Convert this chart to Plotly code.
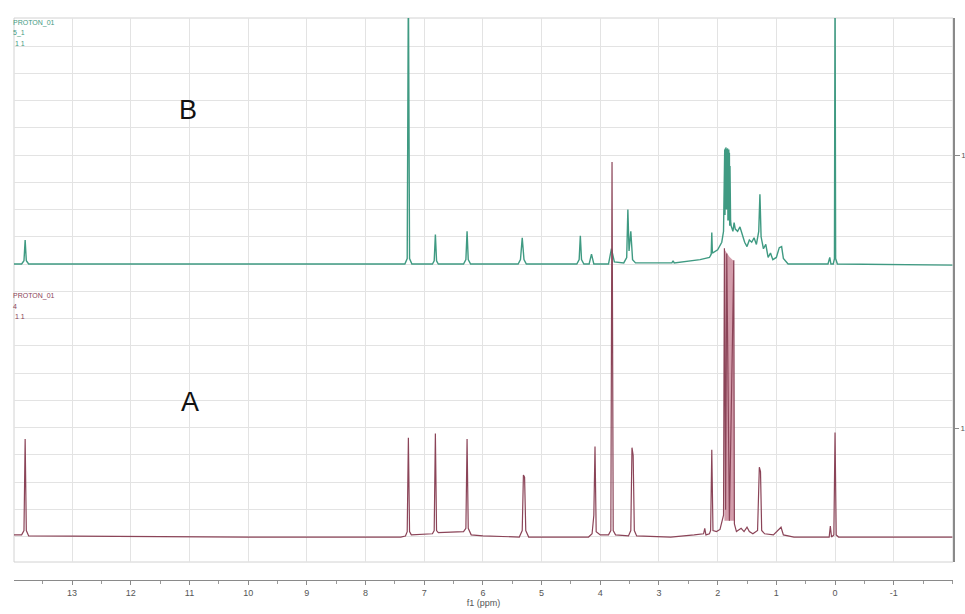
import plotly.graph_objects as go

# 1H NMR spectra, chemical shift (ppm) vs. normalised intensity
# Spectrum B (upper trace)
b_ppm = [14.0, 13.86, 13.82, 13.80, 13.78, 13.74, 10.0, 8.0,
         7.33, 7.29, 7.27, 7.25, 7.21,
         6.86, 6.83, 6.81, 6.79, 6.76,
         6.33, 6.29, 6.27, 6.25, 6.21,
         5.40, 5.36, 5.33, 5.30, 5.26,
         4.40, 4.36, 4.34, 4.32, 4.28,
         4.19, 4.15, 4.11,
         3.86, 3.81, 3.76,
         3.60, 3.55, 3.53, 3.51, 3.48, 3.45, 3.40,
         3.0, 2.78, 2.76, 2.74, 2.30,
         2.14, 2.11, 2.10, 2.09, 2.00, 1.93,
         1.90, 1.88, 1.875, 1.87, 1.865, 1.86, 1.855, 1.85, 1.845, 1.84, 1.835, 1.83,
         1.825, 1.82, 1.815, 1.81, 1.805, 1.80, 1.795, 1.79, 1.78, 1.77,
         1.74, 1.72, 1.70, 1.66, 1.62, 1.58, 1.54, 1.50, 1.46, 1.42, 1.38, 1.34,
         1.30, 1.28, 1.26, 1.22, 1.18, 1.14, 1.10, 1.06, 1.00, 0.95, 0.91, 0.88, 0.80,
         0.12, 0.09, 0.07, 0.03, 0.01, 0.0, -0.01, -0.04, -2.0]
b_int = [0.0, 0.0, 0.03, 0.22, 0.03, 0.0, 0.0, 0.0,
         0.0, 0.05, 2.6, 0.05, 0.0,
         0.0, 0.03, 0.27, 0.03, 0.0,
         0.0, 0.04, 0.30, 0.04, 0.0,
         0.0, 0.04, 0.24, 0.04, 0.0,
         0.0, 0.04, 0.26, 0.04, 0.0,
         0.0, 0.09, 0.0,
         0.0, 0.14, 0.02,
         0.01, 0.06, 0.50, 0.12, 0.30, 0.04, 0.01,
         0.01, 0.01, 0.03, 0.01, 0.04,
         0.06, 0.09, 0.29, 0.10, 0.13, 0.20,
         0.30, 1.05, 0.45, 1.06, 0.50, 1.07, 0.55, 1.06, 0.50, 1.05, 0.45, 1.06,
         0.40, 1.04, 0.45, 1.05, 0.40, 1.02, 0.35, 0.90, 0.40, 0.35,
         0.30, 0.38, 0.32, 0.30, 0.34, 0.27, 0.20, 0.16, 0.22, 0.20, 0.24, 0.18,
         0.30, 0.64, 0.25, 0.14, 0.18, 0.06, 0.10, 0.04, 0.06, 0.15, 0.16, 0.05, 0.0,
         0.0, 0.06, 0.0, 0.0, 0.05, 2.6, 0.05, 0.0, -0.01]

# Spectrum A (lower trace)
a_ppm = [14.0, 13.86, 13.82, 13.80, 13.78, 13.74, 10.0, 8.0, 7.40,
         7.32, 7.29, 7.27, 7.25, 7.22,
         6.86, 6.83, 6.81, 6.79, 6.76,
         6.33, 6.29, 6.27, 6.25, 6.20, 6.0,
         5.38, 5.33, 5.31, 5.29, 5.27, 5.22,
         4.20, 4.14, 4.11, 4.09, 4.07, 4.00,
         3.86, 3.82, 3.80, 3.78, 3.74,
         3.52, 3.48, 3.46, 3.44, 3.42, 3.38,
         2.80, 2.40, 2.24, 2.22, 2.20, 2.14,
         2.12, 2.10, 2.08, 2.02, 1.96,
         1.90, 1.885, 1.865, 1.845, 1.80, 1.725, 1.715, 1.68,
         1.60, 1.55, 1.50, 1.46, 1.40, 1.32, 1.29, 1.27, 1.25, 1.20, 1.05, 0.92, 0.88, 0.70,
         0.10, 0.08, 0.06, 0.02, 0.0, -0.02, -0.06, -2.0]
a_int = [0.02, 0.02, 0.06, 0.90, 0.06, 0.01, 0.0, 0.0, 0.0,
         0.01, 0.05, 0.91, 0.05, 0.02,
         0.03, 0.06, 0.95, 0.06, 0.04,
         0.05, 0.08, 0.90, 0.08, 0.02, 0.01,
         0.0, 0.06, 0.57, 0.55, 0.06, 0.0,
         0.0, 0.03, 0.20, 0.83, 0.05, 0.02,
         0.02, 0.06, 3.44, 0.06, 0.02,
         0.01, 0.06, 0.82, 0.75, 0.06, 0.01,
         0.0, 0.02, 0.03, 0.08, 0.02, 0.03,
         0.06, 0.80, 0.06, 0.05, 0.07,
         0.20, 2.65, 0.25, 2.60, 0.15, 2.54, 0.12, 0.05,
         0.08, 0.05, 0.09, 0.05, 0.03, 0.06, 0.64, 0.60, 0.06, 0.03, 0.02, 0.09, 0.02, 0.0,
         0.0, 0.10, 0.0, 0.02, 0.96, 0.02, 0.0, 0.0]

# envelope of the unresolved 1.7-1.9 ppm multiplet in A
a_env_ppm = [1.885, 1.885, 1.80, 1.722, 1.722]
a_env_int = [0.15, 2.64, 2.57, 2.53, 0.15]

x_tick_vals = [13, 12, 11, 10, 9, 8, 7, 6, 5, 4, 3, 2, 1, 0, -1]
x_tick_text = ["13", "12", "11", "10", "9", "8", "7", "6", "5", "4", "3", "2", "1", "0", "-1"]

GREEN = "#3f9a82"
MAROON = "#8b4458"
GRID = "#e3e3e3"
FONT = "Liberation Sans, Arial, sans-serif"

fig = go.Figure()
fig.add_trace(go.Scatter(x=b_ppm, y=b_int, mode="lines", yaxis="y",
                         line=dict(color=GREEN, width=1.4), hoverinfo="x+y"))
fig.add_trace(go.Scatter(x=a_env_ppm, y=a_env_int, mode="lines", yaxis="y2",
                         fill="toself", fillcolor="rgba(200,132,150,0.8)",
                         line=dict(width=0), hoverinfo="skip"))
fig.add_trace(go.Scatter(x=a_ppm, y=a_int, mode="lines", yaxis="y2",
                         line=dict(color=MAROON, width=1.2), hoverinfo="x+y"))

# frame around the spectra area
fig.add_shape(type="rect", xref="paper", yref="paper", x0=0, x1=1, y0=0.032, y1=1,
              line=dict(color="#d2d2d2", width=1), layer="below")

lbl_font = dict(family=FONT, size=7)
for i, t in enumerate(["PROTON_01", "5_1", " 1 1"]):
    fig.add_annotation(xref="paper", yref="paper", x=-0.003, y=1 - (5 + i * 10) / 562,
                       text=t, showarrow=False, xanchor="left", yanchor="middle",
                       font=dict(color=GREEN, **lbl_font))
for i, t in enumerate(["PROTON_01", "4", " 1 1"]):
    fig.add_annotation(xref="paper", yref="paper", x=-0.003, y=1 - (278 + i * 10) / 562,
                       text=t, showarrow=False, xanchor="left", yanchor="middle",
                       font=dict(color=MAROON, **lbl_font))

big = dict(family=FONT, size=27, color="#111111")
fig.add_annotation(xref="paper", yref="paper", x=(188 - 14) / 939, y=1 - (110 - 18) / 562,
                   text="B", showarrow=False, xanchor="center", yanchor="middle", font=big)
fig.add_annotation(xref="paper", yref="paper", x=(190 - 14) / 939, y=1 - (402 - 18) / 562,
                   text="A", showarrow=False, xanchor="center", yanchor="middle", font=big)

fig.update_layout(
    width=965, height=614,
    margin=dict(l=14, r=12, t=18, b=34, autoexpand=False),
    paper_bgcolor="white", plot_bgcolor="white",
    showlegend=False,
    xaxis=dict(
        range=[13.99, -2.01], anchor="free", position=0, automargin=False,
        tickmode="array", tickvals=x_tick_vals, ticktext=x_tick_text,
        showgrid=True, gridcolor=GRID, gridwidth=1, zeroline=False,
        showline=True, linecolor="#8a8a8a", linewidth=1,
        ticks="outside", ticklen=4, tickcolor="#8a8a8a",
        minor=dict(dtick=0.5, tick0=0, ticks="outside", ticklen=3, tickcolor="#9a9a9a", showgrid=False),
        tickfont=dict(family=FONT, size=9, color="#555555"),
        title=dict(text="f1 (ppm)", standoff=2, font=dict(family=FONT, size=9, color="#555555")),
    ),
    yaxis=dict(
        domain=[0.032, 1], range=[-2.734, 2.257], side="right", automargin=False,
        tickmode="array", tickvals=[1], ticktext=["1"],
        ticks="outside", ticklen=5, tickcolor="#8a8a8a",
        showline=True, linecolor="#8a8a8a", linewidth=1.5,
        showgrid=True, gridcolor=GRID, zeroline=False,
        minor=dict(tick0=0, dtick=0.25, showgrid=True, gridcolor=GRID, ticks=""),
        tickfont=dict(family=FONT, size=8, color="#555555"),
    ),
    yaxis2=dict(
        domain=[0.032, 1], range=[-0.229, 4.761], overlaying="y", side="right", automargin=False,
        tickmode="array", tickvals=[1], ticktext=["1"],
        ticks="outside", ticklen=5, tickcolor="#8a8a8a",
        showgrid=False, zeroline=False, showline=False,
        tickfont=dict(family=FONT, size=8, color="#555555"),
    ),
)

fig.write_html("out.html")
